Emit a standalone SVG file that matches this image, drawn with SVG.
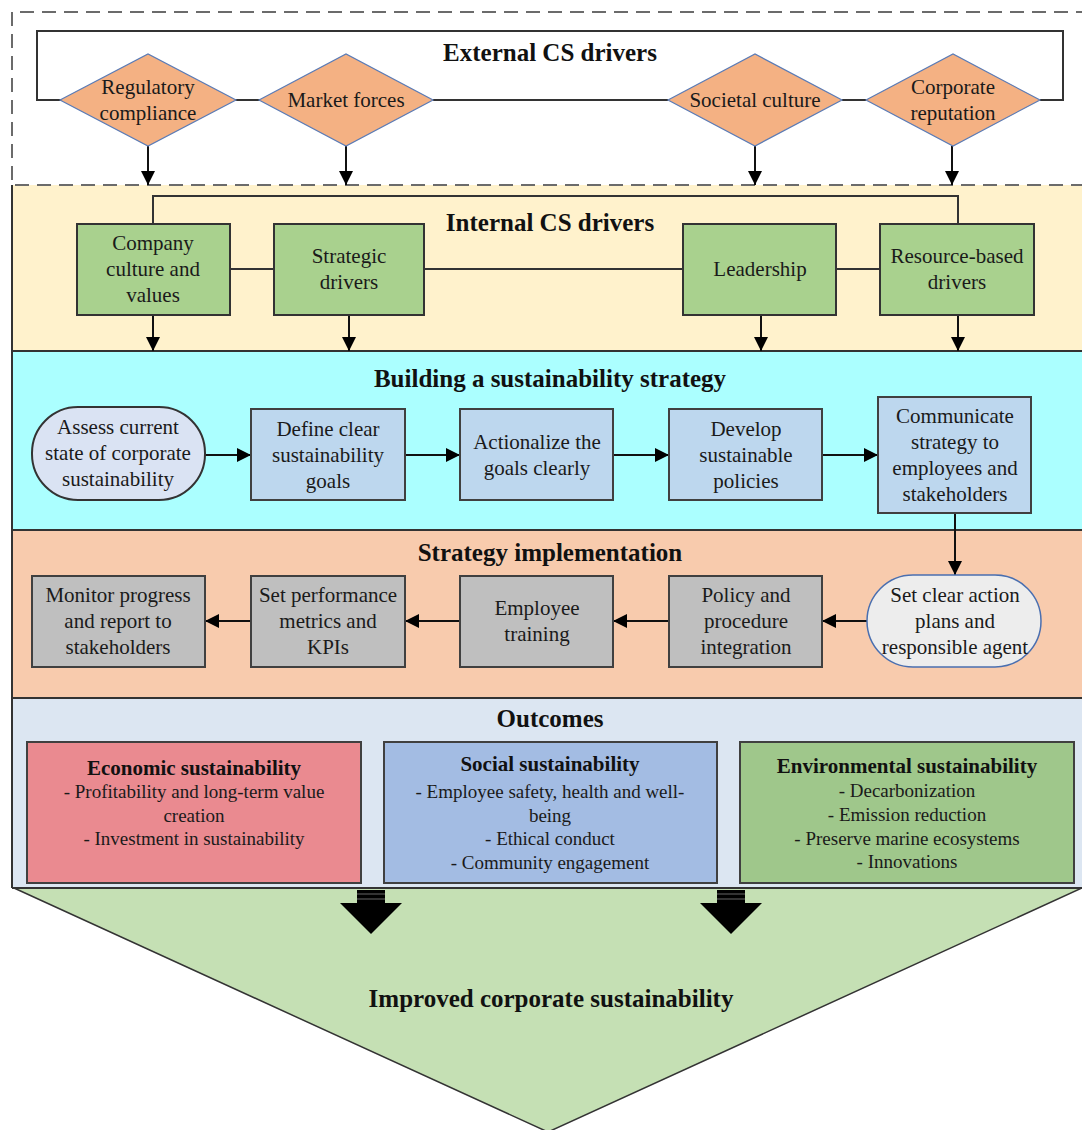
<svg xmlns="http://www.w3.org/2000/svg" width="1082" height="1130" viewBox="0 0 1082 1130">
<style>
.t{font-family:"Liberation Serif","Times New Roman",serif;font-size:21px;fill:#1a1a1a;text-anchor:middle;dominant-baseline:central}
.h{font-family:"Liberation Serif","Times New Roman",serif;font-size:25px;font-weight:bold;fill:#111;text-anchor:middle;dominant-baseline:central}
.o{font-family:"Liberation Serif","Times New Roman",serif;font-size:19px;fill:#1a1a1a;text-anchor:middle;dominant-baseline:central}
.oh{font-family:"Liberation Serif","Times New Roman",serif;font-size:21px;font-weight:bold;fill:#111;text-anchor:middle;dominant-baseline:central}
.dia{fill:#f4b183;stroke:#5b7bb5;stroke-width:1.2}
.grn{fill:#a9d18e;stroke:#333;stroke-width:2}
.blu{fill:#bdd7ee;stroke:#404040;stroke-width:2}
.gry{fill:#bfbfbf;stroke:#404040;stroke-width:2}
.ln{fill:none;stroke:#333;stroke-width:2}
.ar{fill:none;stroke:#111;stroke-width:2;marker-end:url(#ah)}
.sep{stroke:#333;stroke-width:2}
</style>
<defs>
<marker id="ah" viewBox="0 0 10 10" refX="10" refY="5" markerWidth="16" markerHeight="14" markerUnits="userSpaceOnUse" orient="auto">
<path d="M0,0 L10,5 L0,10 z" fill="#000"/>
</marker>
</defs>

<!-- section backgrounds -->
<g id="sections">
<rect x="12" y="12" width="1090" height="173" fill="#fff"/>
<rect x="12" y="185" width="1090" height="166" fill="#fff2cc"/>
<rect x="12" y="351" width="1090" height="179" fill="#abffff"/>
<rect x="12" y="530" width="1090" height="168" fill="#f8cbad"/>
<rect x="12" y="698" width="1090" height="190" fill="#dce6f2"/>
<line class="sep" x1="12" y1="185" x2="12" y2="888"/>
<line class="sep" x1="12" y1="351" x2="1090" y2="351"/>
<line class="sep" x1="12" y1="530" x2="1090" y2="530"/>
<line class="sep" x1="12" y1="698" x2="1090" y2="698"/>
<path d="M1090,12 L12,12 L12,185 L1090,185" fill="none" stroke="#6b6b6b" stroke-width="2" stroke-dasharray="14,8"/>
</g>

<!-- bottom triangle -->
<g id="improved">
<path d="M14,888 L1082,888 L548,1132 Z" fill="#c5e0b4" stroke="#333" stroke-width="1.5"/>
<line class="sep" x1="12" y1="888" x2="1082" y2="888"/>
<text class="h" x="551" y="998" font-size="26">Improved corporate sustainability</text>
</g>

<!-- headings -->
<g id="headings">
<text class="h" x="550" y="52">External CS drivers</text>
<text class="h" x="550" y="222">Internal CS drivers</text>
<text class="h" x="550" y="378">Building a sustainability strategy</text>
<text class="h" x="550" y="552">Strategy implementation</text>
<text class="h" x="550" y="718">Outcomes</text>
</g>

<!-- connectors -->
<g id="connectors">
<path class="ln" d="M62,100 L37,100 L37,31 L1063,31 L1063,100 L1040,100" stroke="#111"/>
<line class="ln" x1="235" y1="100" x2="260" y2="100" stroke="#111"/>
<line class="ln" x1="433" y1="100" x2="668" y2="100" stroke="#111"/>
<line class="ln" x1="842" y1="100" x2="866" y2="100" stroke="#111"/>
<line class="ar" x1="148" y1="146" x2="148" y2="185"/>
<line class="ar" x1="346" y1="146" x2="346" y2="185"/>
<line class="ar" x1="755" y1="146" x2="755" y2="185"/>
<line class="ar" x1="952" y1="146" x2="952" y2="185"/>

<path class="ln" d="M153,224 L153,196 L958,196 L958,224"/>
<line class="ln" x1="230" y1="269" x2="274" y2="269"/>
<line class="ln" x1="424" y1="269" x2="683" y2="269"/>
<line class="ln" x1="836" y1="269" x2="880" y2="269"/>
<line class="ar" x1="153" y1="315" x2="153" y2="351"/>
<line class="ar" x1="349" y1="315" x2="349" y2="351"/>
<line class="ar" x1="761" y1="315" x2="761" y2="351"/>
<line class="ar" x1="958" y1="315" x2="958" y2="351"/>

<line class="ar" x1="205" y1="455" x2="251" y2="455"/>
<line class="ar" x1="405" y1="455" x2="460" y2="455"/>
<line class="ar" x1="613" y1="455" x2="669" y2="455"/>
<line class="ar" x1="822" y1="455" x2="878" y2="455"/>
<line class="ar" x1="955" y1="513" x2="955" y2="575"/>

<line class="ar" x1="867" y1="621" x2="822" y2="621"/>
<line class="ar" x1="669" y1="621" x2="613" y2="621"/>
<line class="ar" x1="460" y1="621" x2="405" y2="621"/>
<line class="ar" x1="251" y1="621" x2="205" y2="621"/>

<g id="bigarrow1">
<rect x="357" y="890" width="28" height="14" fill="#000"/>
<line x1="357" y1="894" x2="385" y2="894" stroke="#666" stroke-width="1"/>
<line x1="357" y1="899" x2="385" y2="899" stroke="#666" stroke-width="1"/>
<path d="M340,903 L402,903 L371,934 Z" fill="#000"/>
</g>
<g id="bigarrow2">
<rect x="717" y="890" width="28" height="14" fill="#000"/>
<line x1="717" y1="894" x2="745" y2="894" stroke="#666" stroke-width="1"/>
<line x1="717" y1="899" x2="745" y2="899" stroke="#666" stroke-width="1"/>
<path d="M700,903 L762,903 L731,934 Z" fill="#000"/>
</g>
</g>

<!-- external drivers -->
<g id="regulatory">
<path class="dia" d="M60,100 L148,54 L236,100 L148,146 Z"/>
<text class="t" x="148" y="87">Regulatory</text>
<text class="t" x="148" y="113">compliance</text>
</g>
<g id="market">
<path class="dia" d="M259,100 L346,54 L433,100 L346,146 Z"/>
<text class="t" x="346" y="100">Market forces</text>
</g>
<g id="societal">
<path class="dia" d="M668,100 L755,54 L842,100 L755,146 Z"/>
<text class="t" x="755" y="100">Societal culture</text>
</g>
<g id="reputation">
<path class="dia" d="M866,100 L953,54 L1040,100 L953,146 Z"/>
<text class="t" x="953" y="87">Corporate</text>
<text class="t" x="953" y="113">reputation</text>
</g>

<!-- internal drivers -->
<g id="company">
<rect class="grn" x="77" y="224" width="153" height="91"/>
<text class="t" x="153" y="243">Company</text>
<text class="t" x="153" y="269">culture and</text>
<text class="t" x="153" y="295">values</text>
</g>
<g id="strategic">
<rect class="grn" x="274" y="224" width="150" height="91"/>
<text class="t" x="349" y="256">Strategic</text>
<text class="t" x="349" y="282">drivers</text>
</g>
<g id="leadership">
<rect class="grn" x="683" y="224" width="153" height="91"/>
<text class="t" x="760" y="269">Leadership</text>
</g>
<g id="resource">
<rect class="grn" x="880" y="224" width="154" height="91"/>
<text class="t" x="957" y="256">Resource-based</text>
<text class="t" x="957" y="282">drivers</text>
</g>

<!-- building strategy -->
<g id="assess">
<rect x="32" y="407" width="173" height="93" rx="46" ry="46" fill="#dae3f3" stroke="#333" stroke-width="2"/>
<text class="t" x="118" y="427">Assess current</text>
<text class="t" x="118" y="453">state of corporate</text>
<text class="t" x="118" y="479">sustainability</text>
</g>
<g id="define">
<rect class="blu" x="251" y="409" width="154" height="91"/>
<text class="t" x="328" y="429">Define clear</text>
<text class="t" x="328" y="455">sustainability</text>
<text class="t" x="328" y="481">goals</text>
</g>
<g id="actionalize">
<rect class="blu" x="460" y="409" width="153" height="91"/>
<text class="t" x="537" y="442">Actionalize the</text>
<text class="t" x="537" y="468">goals clearly</text>
</g>
<g id="develop">
<rect class="blu" x="669" y="409" width="153" height="91"/>
<text class="t" x="746" y="429">Develop</text>
<text class="t" x="746" y="455">sustainable</text>
<text class="t" x="746" y="481">policies</text>
</g>
<g id="communicate">
<rect class="blu" x="878" y="397" width="153" height="116"/>
<text class="t" x="955" y="416">Communicate</text>
<text class="t" x="955" y="442">strategy to</text>
<text class="t" x="955" y="468">employees and</text>
<text class="t" x="955" y="494">stakeholders</text>
</g>

<!-- implementation -->
<g id="actionplans">
<rect x="867" y="575" width="174" height="92" rx="46" ry="46" fill="#ededed" stroke="#4a6fb0" stroke-width="1.5"/>
<text class="t" x="955" y="595">Set clear action</text>
<text class="t" x="955" y="621">plans and</text>
<text class="t" x="955" y="647">responsible agent</text>
</g>
<g id="policy">
<rect class="gry" x="669" y="576" width="153" height="91"/>
<text class="t" x="746" y="595">Policy and</text>
<text class="t" x="746" y="621">procedure</text>
<text class="t" x="746" y="647">integration</text>
</g>
<g id="training">
<rect class="gry" x="460" y="576" width="153" height="91"/>
<text class="t" x="537" y="608">Employee</text>
<text class="t" x="537" y="634">training</text>
</g>
<g id="metrics">
<rect class="gry" x="251" y="576" width="154" height="91"/>
<text class="t" x="328" y="595">Set performance</text>
<text class="t" x="328" y="621">metrics and</text>
<text class="t" x="328" y="647">KPIs</text>
</g>
<g id="monitor">
<rect class="gry" x="32" y="576" width="173" height="91"/>
<text class="t" x="118" y="595">Monitor progress</text>
<text class="t" x="118" y="621">and report to</text>
<text class="t" x="118" y="647">stakeholders</text>
</g>

<!-- outcomes -->
<g id="economic">
<rect x="27" y="742" width="334" height="141" fill="#ea8a90" stroke="#404040" stroke-width="2"/>
<text class="oh" x="194" y="768">Economic sustainability</text>
<text class="o" x="194" y="791">- Profitability and long-term value</text>
<text class="o" x="194" y="815">creation</text>
<text class="o" x="194" y="838">- Investment in sustainability</text>
</g>
<g id="social">
<rect x="384" y="742" width="333" height="141" fill="#a3bce3" stroke="#404040" stroke-width="2"/>
<text class="oh" x="550" y="764">Social sustainability</text>
<text class="o" x="550" y="791">- Employee safety, health and well-</text>
<text class="o" x="550" y="815">being</text>
<text class="o" x="550" y="838">- Ethical conduct</text>
<text class="o" x="550" y="862">- Community engagement</text>
</g>
<g id="environmental">
<rect x="740" y="742" width="334" height="141" fill="#9fc78b" stroke="#404040" stroke-width="2"/>
<text class="oh" x="907" y="766">Environmental sustainability</text>
<text class="o" x="907" y="790">- Decarbonization</text>
<text class="o" x="907" y="814">- Emission reduction</text>
<text class="o" x="907" y="838">- Preserve marine ecosystems</text>
<text class="o" x="907" y="861">- Innovations</text>
</g>
</svg>
